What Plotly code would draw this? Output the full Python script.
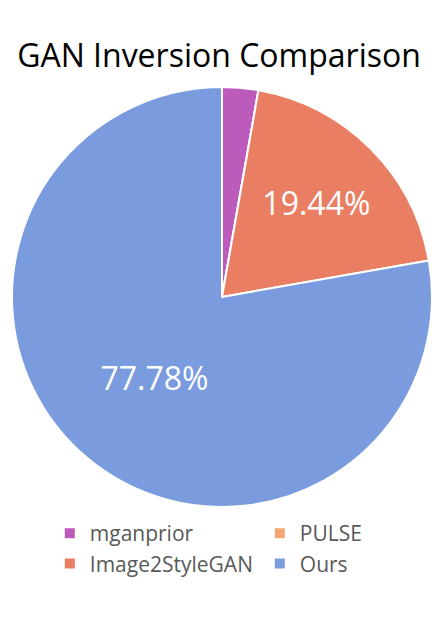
import plotly.graph_objects as go

labels = ["mganprior", "PULSE", "Image2StyleGAN", "Ours"]
counts = [1, 0, 7, 28]
colors = ["#BC5BBC", "#F4A774", "#E97E62", "#7A9CDE"]
text_templates = ["", "", "%{percent:.2%}", "%{percent:.2%}"]

fig = go.Figure(go.Pie(
    labels=labels,
    values=counts,
    sort=False,
    direction="clockwise",
    rotation=0,
    marker=dict(colors=colors, line=dict(color="white", width=2)),
    texttemplate=text_templates,
    textposition="inside",
    insidetextorientation="horizontal",
    textfont=dict(color="white", size=32, family="Open Sans"),
    hoverinfo="label+percent",
))

fig.update_layout(
    width=438, height=618,
    margin=dict(l=12, r=6, t=87, b=111, autoexpand=False),
    paper_bgcolor="white",
    plot_bgcolor="white",
    title=dict(text="GAN Inversion Comparison", x=0.5, xanchor="center",
               y=1 - 56 / 618, yanchor="middle",
               font=dict(size=32, color="black", family="Open Sans")),
    showlegend=True,
    legend=dict(orientation="h", x=0.09, xanchor="left",
                y=-6 / 420, yanchor="top",
                entrywidthmode="fraction", entrywidth=0.5,
                font=dict(size=21, color="#595959", family="Open Sans"),
                traceorder="normal"),
)

fig.write_html("out.html",
               config={"displayModeBar": False},
               post_script="document.body.style.margin='0px';document.body.style.overflow='hidden';")
